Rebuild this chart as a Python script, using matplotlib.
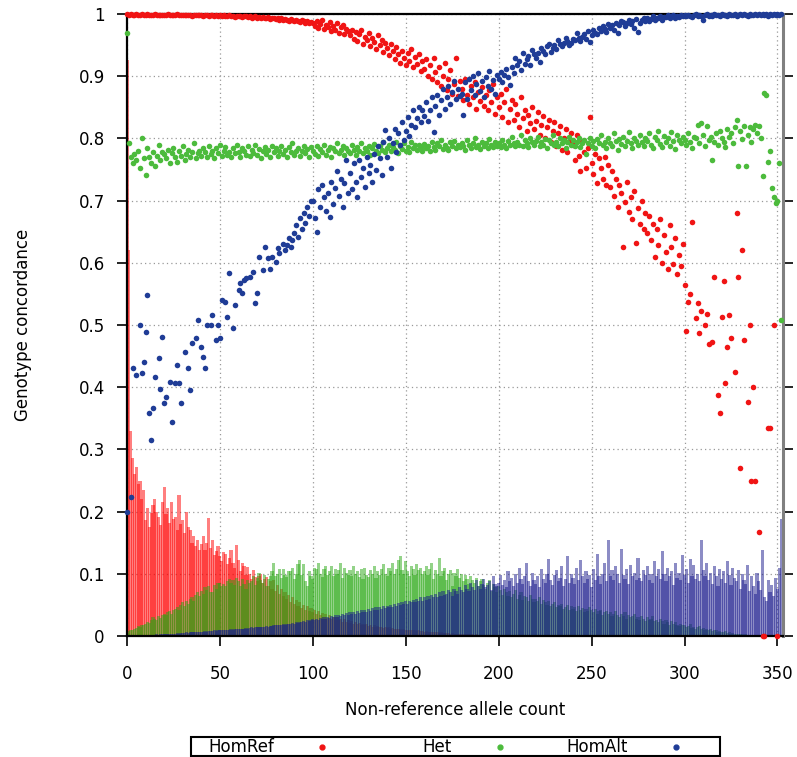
import numpy as np
import matplotlib
matplotlib.use("Agg")
import matplotlib.pyplot as plt
from matplotlib.patches import Rectangle
from matplotlib.lines import Line2D
from matplotlib.ticker import FuncFormatter

N = float("nan")

# genotype concordance per non-reference allele count (x = 0..352), in thousandths
homref_conc = [
    1000, 999, 1000, 999, 998, 1000, 999, 999, 1000, 998, 999, 1000, 999, 998, 999, 1000, 999, 998, 999, 999,
    998, 999, 1000, 998, 999, 999, 998, 1000, 999, 998, 999, 998, 999, 999, 998, 997, 999, 998, 999, 998,
    998, 997, 999, 998, 997, 998, 999, 997, 998, 996, 998, 997, 998, 996, 997, 998, 996, 997, 995, 997,
    996, 997, 995, 996, 997, 995, 996, 994, 995, 996, 994, 995, 993, 995, 994, 993, 995, 992, 994, 993,
    992, 994, 991, 993, 990, 992, 991, 989, 992, 990, 988, 991, 989, 987, 990, 988, 986, 989, 985, 987,
    986, 981, 989, 978, 984, 990, 976, 983, 979, 987, 972, 981, 975, 985, 970, 979, 983, 968, 976, 973,
    966, 975, 960, 971, 957, 968, 974, 952, 963, 958, 970, 948, 961, 955, 944, 966, 950, 958, 939, 953,
    945, 934, 952, 940, 928, 947, 936, 922, 941, 930, 918, 938, 925, 944, 915, 931, 920, 936, 908, 925,
    912, 928, 900, 918, 895, 930, 906, 890, 915, 884, 901, 922, 878, 896, 910, 872, 888, 929, 868, 892,
    880, 862, 895, 870, 855, 884, 866, 890, 848, 875, 860, 882, 852, 870, 845, 878, 858, 888, 840, 866,
    850, 872, 835, 858, 880, 826, 848, 862, 830, 855, 840, 818, 866, 832, 845, 812, 838, 824, 850, 815,
    828, 842, 806, 822, 836, 800, 818, 830, 795, 812, 826, 788, 808, 820, 782, 800, 815, 778, 795, 808,
    790, 765, 805, 772, 748, 795, 778, 752, 785, 835, 760, 742, 775, 728, 768, 752, 735, 770, 725, 758,
    722, 748, 708, 735, 690, 725, 712, 625, 698, 730, 682, 705, 670, 715, 632, 688, 662, 700, 655, 680,
    648, 675, 636, 662, 610, 655, 628, 670, 600, 645, 618, 590, 660, 625, 598, 640, 582, 612, 595, 630,
    565, 490, 537, 550, 666, N, 512, 535, 487, 522, N, 500, 518, 470, N, 472, 577, N, 387, 358,
    513, 570, 407, 465, 516, 479, N, 424, 680, 577, 270, 620, 476, N, 376, 500, 250, 400, 250, N,
    167, N, 0, 0, N, 334, 334, N, 500, N, 0, N, N,
]
het_conc = [
    970, 793, 770, 760, 775, 765, 780, 752, 800, 768, 741, 785, 770, 760, 778, 755, 772, 790, 765, 778,
    775, 768, 782, 760, 776, 785, 770, 762, 780, 772, 788, 766, 775, 782, 770, 778, 792, 768, 776, 780,
    772, 785, 778, 770, 788, 775, 780, 768, 784, 776, 790, 772, 780, 786, 774, 778, 770, 784, 776, 789,
    778, 770, 785, 780, 774, 787, 772, 781, 776, 790, 774, 783, 768, 779, 786, 775, 782, 770, 788, 778,
    784, 772, 780, 788, 775, 782, 770, 786, 778, 792, 774, 780, 785, 771, 779, 788, 776, 783, 770, 786,
    780, 775, 788, 772, 783, 778, 790, 774, 781, 786, 770, 784, 779, 792, 776, 782, 788, 773, 785, 780,
    777, 789, 782, 774, 786, 780, 793, 776, 784, 779, 788, 773, 785, 791, 780, 777, 787, 782, 795, 778,
    784, 790, 779, 786, 781, 794, 777, 788, 783, 792, 780, 786, 778, 795, 784, 789, 781, 790, 786, 779,
    791, 784, 788, 780, 795, 786, 782, 792, 787, 798, 783, 790, 785, 781, 794, 788, 796, 784, 790, 786,
    793, 787, 781, 797, 789, 784, 792, 800, 786, 790, 783, 795, 788, 792, 785, 799, 790, 786, 794, 788,
    792, 786, 798, 790, 784, 796, 789, 802, 793, 787, 795, 790, 805, 788, 797, 792, 786, 800, 794, 789,
    796, 802, 788, 794, 790, 799, 785, 797, 792, 806, 790, 795, 787, 800, 793, 798, 784, 795, 802, 790,
    797, 788, 795, 801, 786, 793, 798, 775, 792, 800, 787, 796, 784, 799, 792, 806, 789, 795, 785, 801,
    793, 788, 808, 796, 782, 799, 791, 803, 787, 796, 810, 792, 785, 801, 796, 789, 805, 794, 787, 800,
    796, 808, 790, 785, 802, 797, 812, 791, 786, 804, 795, 800, 788, 810, 796, 783, 806, 798, 792, 803,
    797, 790, 808, 795, 785, 803, 800, 822, 792, 825, 806, 788, 820, 797, 803, 765, 794, 808, 790, 812,
    800, 795, 786, 815, 802, 809, 793, 818, 830, 755, 812, 799, 820, 755, 806, 818, 795, 815, 822, 808,
    820, 800, 740, 873, 870, 762, 780, 720, 705, 696, 700, 760, 508,
]
homalt_conc = [
    200, N, 223, 431, N, 420, N, 500, 423, 440, 489, 548, 358, 315, 367, 416, N, 447, 397, 481,
    374, 384, N, 408, 344, N, 407, 436, 407, 375, N, 457, N, 431, 396, 471, N, 479, 508, N,
    465, 449, 431, 500, N, 500, 516, N, 476, 500, 479, 540, N, 537, 513, 583, N, 495, 532, N,
    556, 567, 551, 572, 575, N, 577, N, 585, 535, 551, 609, N, 588, 625, N, 607, 590, 610, N,
    601, 624, 615, N, 630, 620, 629, 640, 625, 637, 648, 660, 642, 672, 655, 680, 664, 690, 676, 700,
    700, 672, 650, 718, 690, 725, 705, 684, 712, 674, 730, 695, 720, 748, 708, 735, 690, 728, 765, 712,
    744, 718, 760, 730, 706, 765, 738, 752, 722, 770, 745, 758, 730, 775, 750, 788, 768, 741, 795, 813,
    770, 800, 752, 793, 815, 778, 808, 790, 826, 798, 812, 835, 804, 822, 845, 818, 832, 850, 826, 846,
    836, 858, 828, 845, 866, 810, 852, 870, 838, 862, 880, 848, 866, 885, 855, 875, 892, 864, 880, 868,
    872, 838, 890, 864, 895, 878, 900, 870, 888, 905, 876, 892, 866, 898, 884, 908, 880, 894, 872, 902,
    895, 907, 890, 902, 912, 898, 886, 915, 905, 929, 918, 925, 910, 937, 920, 928, 932, 918, 942, 935,
    930, 938, 923, 945, 940, 936, 948, 952, 939, 945, 950, 944, 958, 952, 948, 954, 962, 956, 950, 953,
    960, 958, 970, 962, 956, 963, 968, 960, 972, 955, 966, 975, 970, 968, 978, 973, 980, 976, 971, 984,
    978, 982, 975, 986, 970, 983, 988, 987, 980, 985, 990, 984, 988, 978, 992, 971, 986, 990, 994, 988,
    994, 989, 992, 996, 990, 994, 993, 997, 991, 995, 995, 998, 993, 996, 999, 994, 997, 995, 998, 996,
    998, 996, 999, 997, 995, 998, 1000, 996, 999, 997, 990, 998, 1000, 997, 999, 996, 1000, 998, 999, 997,
    1000, 998, 999, 997, 1000, 999, 998, 1000, 997, 999, 1000, 998, 1000, 999, 997, 1000, 999, 998, 1000, 999,
    1000, 998, 1000, 999, 1000, 997, 1000, 999, 1000, 998, 1000, 999, 1000,
]

# fraction of sites in each true genotype class (thousandths), drawn as impulses
homref_frac = [
    926, 620, 330, 286, 260, 272, 245, 250, 221, 235, 186, 205, 175, 198, 210, 221, 200, 192, 178, 215,
    240, 196, 205, 182, 215, 188, 192, 170, 227, 180, 186, 165, 200, 176, 170, 150, 160, 145, 154, 138,
    148, 160, 138, 150, 190, 142, 154, 130, 136, 144, 128, 120, 135, 132, 115, 125, 139, 118, 110, 147,
    122, 105, 117, 112, 98, 111, 100, 92, 106, 95, 88, 97, 100, 85, 92, 95, 80, 88, 76, 90,
    72, 82, 68, 75, 64, 70, 60, 66, 55, 62, 52, 58, 48, 55, 45, 50, 42, 48, 40, 45,
    38, 42, 35, 40, 33, 37, 31, 35, 29, 33, 28, 31, 26, 30, 25, 28, 23, 27, 22, 25,
    21, 24, 20, 22, 19, 21, 18, 20, 17, 19, 16, 18, 15, 17, 15, 16, 14, 15, 13, 14,
    13, 14, 12, 13, 12, 12, 11, 12, 10, 11, 10, 10, 9, 10, 9, 9, 8, 9, 8, 8,
    7, 8, 7, 7, 6, 7, 6, 6, 5, 6, 5, 5, 5, 5, 4, 5, 4, 4, 4, 4,
    3, 4, 3, 3, 3, 3, 3, 2, 3, 2, 2, 2, 2, 2, 2, 2, 1, 2, 1, 1,
    1, 1, 1, 1, 1, 1, 1, 1, 1, 1, 1, 1, 1, 1, 1, 1, 1, 1, 1, 1,
    1, 1, 1, 1, 1, 1, 1, 1, 1, 1, 0, 1, 0, 1, 0, 0, 1, 0, 0, 0,
    0, 0, 0, 0, 0, 0, 0, 0, 0, 0, 0, 0, 0, 0, 0, 0, 0, 0, 0, 0,
    0, 0, 0, 0, 0, 0, 0, 0, 0, 0, 0, 0, 0, 0, 0, 0, 0, 0, 0, 0,
    0, 0, 0, 0, 0, 0, 0, 0, 0, 0, 0, 0, 0, 0, 0, 0, 0, 0, 0, 0,
    0, 0, 0, 0, 0, 0, 0, 0, 0, 0, 0, 0, 0, 0, 0, 0, 0, 0, 0, 0,
    0, 0, 0, 0, 0, 0, 0, 0, 0, 0, 0, 0, 0, 0, 0, 0, 0, 0, 0, 0,
    0, 0, 0, 0, 0, 0, 0, 0, 0, 0, 0, 0, 0,
]
het_frac = [
    5, 8, 9, 10, 12, 13, 16, 15, 18, 17, 20, 22, 21, 25, 30, 27, 26, 32, 29, 34,
    36, 33, 38, 40, 35, 42, 44, 46, 41, 50, 54, 48, 56, 52, 59, 62, 57, 66, 70, 64,
    72, 68, 78, 74, 80, 70, 70, 82, 76, 86, 86, 80, 84, 80, 88, 92, 85, 90, 82, 94,
    88, 80, 92, 84, 75, 90, 86, 88, 96, 82, 94, 101, 90, 86, 98, 80, 92, 96, 104, 117,
    96, 100, 107, 94, 107, 98, 95, 104, 104, 110, 91, 100, 115, 122, 98, 115, 88, 80, 105, 96,
    91, 110, 107, 117, 100, 95, 107, 112, 98, 104, 112, 96, 108, 100, 106, 118, 94, 110, 102, 98,
    106, 96, 112, 100, 104, 95, 108, 92, 110, 98, 95, 106, 100, 112, 94, 104, 98, 108, 115, 100,
    96, 110, 104, 118, 100, 108, 122, 128, 106, 100, 120, 104, 96, 112, 108, 98, 116, 106, 110, 100,
    104, 112, 98, 108, 118, 92, 106, 100, 126, 96, 104, 110, 90, 100, 106, 80, 102, 96, 108, 94,
    100, 88, 98, 92, 84, 96, 90, 86, 94, 80, 88, 92, 82, 76, 86, 90, 72, 84, 78, 70,
    80, 74, 66, 76, 70, 64, 72, 62, 68, 74, 60, 66, 70, 58, 64, 62, 56, 66, 60, 54,
    60, 56, 62, 52, 58, 54, 50, 56, 48, 52, 54, 46, 50, 48, 52, 44, 46, 50, 42, 48,
    44, 46, 40, 48, 42, 45, 38, 44, 40, 46, 42, 38, 44, 36, 40, 42, 34, 38, 40, 35,
    38, 32, 36, 40, 34, 30, 36, 32, 38, 28, 34, 30, 32, 36, 28, 30, 26, 32, 28, 24,
    30, 26, 28, 32, 24, 26, 22, 28, 24, 20, 26, 22, 18, 24, 20, 22, 18, 16, 20, 17,
    18, 14, 16, 19, 13, 15, 12, 14, 16, 11, 13, 10, 12, 9, 11, 8, 10, 9, 7, 8,
    7, 6, 8, 5, 6, 4, 5, 4, 3, 4, 3, 3, 2, 3, 2, 2, 1, 2, 1, 1,
    1, 1, 1, 1, 0, 1, 0, 0, 1, 0, 0, 0, 0,
]
homalt_frac = [
    0, 0, 0, 1, 0, 1, 1, 1, 1, 1, 2, 1, 2, 2, 2, 2, 3, 2, 3, 3,
    3, 3, 4, 3, 4, 4, 4, 5, 4, 5, 5, 5, 6, 5, 6, 6, 6, 7, 6, 7,
    7, 7, 8, 7, 8, 8, 8, 9, 8, 9, 9, 9, 10, 9, 10, 10, 11, 10, 11, 11,
    12, 11, 12, 12, 13, 12, 13, 14, 13, 14, 14, 15, 14, 15, 15, 16, 15, 16, 16, 17,
    17, 18, 17, 18, 19, 18, 19, 20, 19, 21, 20, 22, 21, 23, 22, 24, 23, 25, 24, 26,
    27, 25, 28, 26, 29, 27, 30, 28, 31, 29, 32, 30, 33, 31, 34, 32, 35, 33, 37, 34,
    38, 35, 39, 36, 40, 37, 41, 38, 42, 39, 44, 40, 45, 41, 46, 42, 47, 43, 48, 45,
    49, 46, 50, 47, 52, 48, 53, 50, 54, 51, 56, 52, 57, 54, 58, 55, 60, 56, 62, 57,
    63, 58, 65, 60, 66, 62, 68, 63, 70, 64, 72, 66, 68, 74, 70, 65, 76, 72, 68, 78,
    74, 70, 82, 76, 72, 86, 78, 74, 90, 80, 76, 84, 92, 78, 82, 88, 74, 96, 84, 80,
    86, 98, 82, 90, 78, 104, 88, 94, 80, 100, 86, 110, 92, 84, 96, 118, 88, 80, 102, 90,
    84, 96, 78, 108, 92, 86, 100, 124, 90, 82, 98, 106, 88, 94, 112, 80, 92, 128, 86, 100,
    94, 84, 110, 90, 122, 96, 86, 104, 92, 98, 78, 108, 90, 132, 96, 84, 100, 118, 88, 154,
    96, 106, 90, 112, 100, 86, 140, 98, 92, 108, 84, 114, 96, 102, 90, 126, 94, 88, 106, 98,
    112, 90, 100, 86, 120, 96, 108, 92, 136, 100, 88, 110, 96, 104, 82, 118, 94, 102, 90, 130,
    98, 108, 86, 124, 96, 114, 92, 100, 88, 154, 106, 96, 118, 90, 102, 84, 112, 96, 80, 108,
    92, 104, 86, 120, 98, 82, 110, 94, 88, 106, 76, 100, 90, 84, 114, 72, 96, 80, 68, 102,
    88, 74, 138, 62, 56, 90, 70, 82, 64, 94, 76, 110, 188,
]

labels = ["HomRef", "Het", "HomAlt"]
point_colors = ["#f01414", "#4cbb3c", "#1f3c96"]
bar_colors = ["#ff0000", "#2aa814", "#1a1a8c"]

fig = plt.figure(figsize=(7.97, 7.57), dpi=100)
ax = fig.add_axes([127 / 797, 121 / 757, 656 / 797, 622 / 757])

fracs = [homref_frac, het_frac, homalt_frac]
concs = [homref_conc, het_conc, homalt_conc]

for vals, col in zip(fracs, bar_colors):
    v = np.array(vals, dtype=float) / 1000
    ax.bar(np.arange(len(v)), v, width=1.7, color=col, alpha=0.5, linewidth=0, zorder=1)

for vals, col in zip(concs, point_colors):
    v = np.array(vals, dtype=float) / 1000
    ax.scatter(np.arange(len(v)), v, s=16, color=col, linewidths=0, zorder=3, clip_on=False)

ax.set_xlim(0, 353)
ax.set_ylim(0, 1)
ax.set_xticks(np.arange(0, 351, 50))
ax.set_yticks(np.arange(0, 1.01, 0.1))
ax.yaxis.set_major_formatter(FuncFormatter(lambda v, p: "%g" % round(v, 1)))
ax.grid(True, color="#999999", linestyle=(0, (1, 2.5)), linewidth=0.9)
ax.set_axisbelow(True)
ax.tick_params(axis="both", direction="out", length=7, width=1.2, labelsize=12)
ax.tick_params(axis="y", right=True, pad=9)
ax.tick_params(axis="x", pad=14)
for side in ["left", "top", "bottom"]:
    ax.spines[side].set_linewidth(1.6)
    ax.spines[side].set_color("black")
ax.spines["right"].set_linewidth(2.2)
ax.spines["right"].set_color("#808080")

ax.set_xlabel("Non-reference allele count", fontsize=12)
ax.xaxis.set_label_coords(0.5, -0.105)
ax.set_ylabel("Genotype concordance", fontsize=12)
ax.yaxis.set_label_coords(-0.145, 0.5)

# key box below the plot, gnuplot style (right-justified text, sample after)
fig.add_artist(Rectangle((191 / 797, 1 / 757), 529 / 797, 19 / 757, transform=fig.transFigure,
                         fill=False, edgecolor="black", linewidth=1.5))
dot_x = [322, 500, 676]
for lab, col, dx in zip(labels, point_colors, dot_x):
    fig.text((dx - 48) / 797, 10.5 / 757, lab, ha="right", va="center", fontsize=12)
    fig.add_artist(Line2D([dx / 797], [10.5 / 757], marker="o", markersize=3.5, color=col,
                          linestyle="none", transform=fig.transFigure))

fig.savefig("out.png", dpi=100)
